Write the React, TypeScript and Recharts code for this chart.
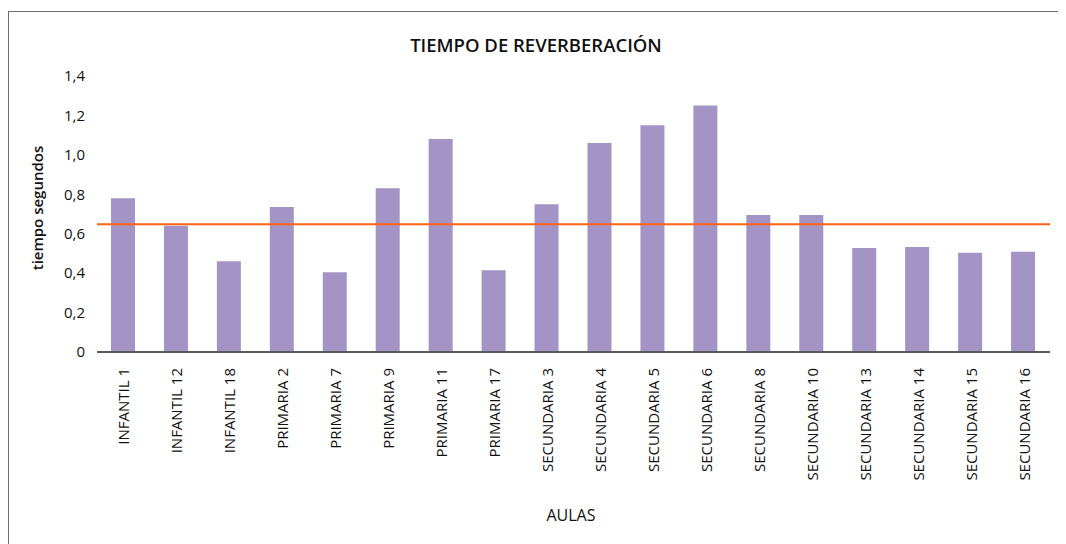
import { BarChart, Bar, XAxis, YAxis, ReferenceLine } from 'recharts';

const aulas = [
  'INFANTIL 1', 'INFANTIL 12', 'INFANTIL 18',
  'PRIMARIA 2', 'PRIMARIA 7', 'PRIMARIA 9', 'PRIMARIA 11', 'PRIMARIA 17',
  'SECUNDARIA 3', 'SECUNDARIA 4', 'SECUNDARIA 5', 'SECUNDARIA 6', 'SECUNDARIA 8',
  'SECUNDARIA 10', 'SECUNDARIA 13', 'SECUNDARIA 14', 'SECUNDARIA 15', 'SECUNDARIA 16',
];
const tiempos = [
  0.78, 0.64, 0.46, 0.735, 0.405, 0.83, 1.08, 0.415, 0.75, 1.06,
  1.15, 1.25, 0.695, 0.695, 0.528, 0.533, 0.503, 0.508,
];
const limite = 0.648;
const yTicks = [0, 0.2, 0.4, 0.6, 0.8, 1.0, 1.2, 1.4];

const data = aulas.map((aula, i) => ({ aula, tiempo: tiempos[i] }));

const FONT = '"Open Sans", "Liberation Sans", sans-serif';
const INK = '#111111';

const fmtY = (v: number) => (v === 0 ? '0' : v.toFixed(1).replace('.', ','));

function AulaTick({ x, y, payload }: any) {
  return (
    <text
      x={x}
      y={y + 8}
      transform={`rotate(-90, ${x}, ${y + 8})`}
      textAnchor="end"
      dominantBaseline="central"
      fontSize={15}
      fontFamily={FONT}
      fill={INK}
    >
      {payload.value}
    </text>
  );
}

export default function App() {
  return (
    <div
      style={{
        position: 'relative',
        marginTop: 3,
        width: 1054,
        height: 540,
        border: '1px solid #6d6e71',
        fontFamily: FONT,
        color: INK,
      }}
    >
      <div
        style={{
          position: 'absolute',
          top: 20,
          left: 0,
          width: 1054,
          textAlign: 'center',
          fontSize: 18.5,
          fontWeight: 600,
        }}
      >
        TIEMPO DE REVERBERACIÓN
      </div>
      <div
        style={{
          position: 'absolute',
          left: 28 - 80,
          top: 198 - 12,
          width: 160,
          textAlign: 'center',
          fontSize: 15,
          fontWeight: 600,
          transform: 'rotate(-90deg)',
        }}
      >
        tiempo segundos
      </div>
      <div
        style={{
          position: 'absolute',
          top: 492,
          left: 462,
          width: 200,
          textAlign: 'center',
          fontSize: 16,
        }}
      >
        AULAS
      </div>
      <div style={{ position: 'absolute', left: 0, top: 0 }}>
        <BarChart
          width={1054}
          height={530}
          data={data}
          margin={{ top: 64, right: 13, left: 28, bottom: 0 }}
          barSize={24}
        >
          <XAxis
            dataKey="aula"
            interval={0}
            height={190}
            tick={<AulaTick />}
            tickLine={false}
            axisLine={{ stroke: '#58595b', strokeWidth: 2 }}
          />
          <YAxis
            width={60}
            domain={[0, 1.4]}
            ticks={yTicks}
            tickFormatter={fmtY}
            axisLine={false}
            tickLine={false}
            tickMargin={6}
            tick={{ fill: INK, fontSize: 15, fontFamily: FONT }}
          />
          <Bar dataKey="tiempo" fill="#a493c5" isAnimationActive={false} />
          <ReferenceLine y={limite} stroke="#ff6319" strokeWidth={2} ifOverflow="extendDomain" />
        </BarChart>
      </div>
    </div>
  );
}
